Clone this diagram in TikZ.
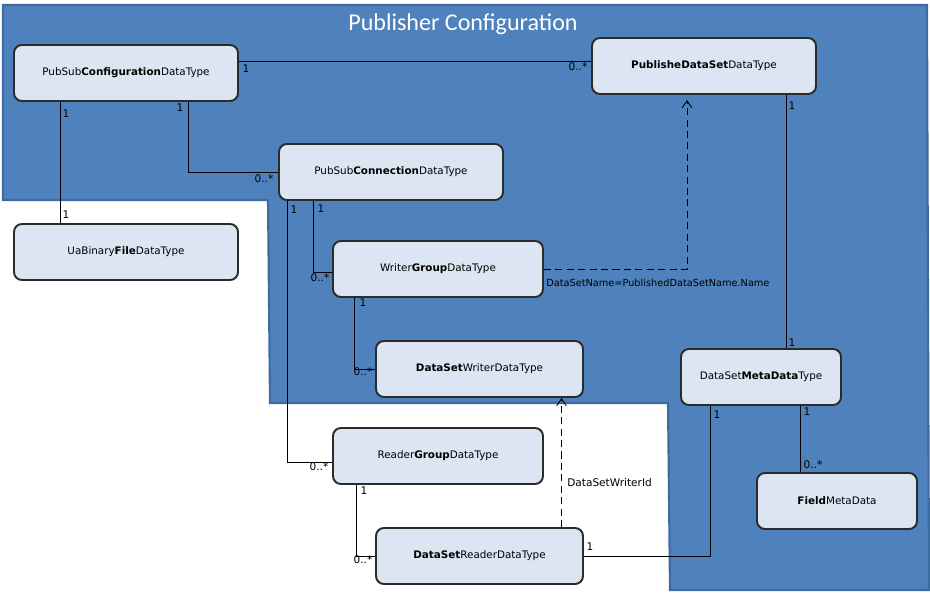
\documentclass[tikz,border=0pt]{standalone}
\usepackage{fontspec}
\setmainfont{DejaVu Sans}
\newfontfamily\titlefont{Carlito}
\usetikzlibrary{calc,arrows.meta}

\definecolor{mycolor1}{rgb}{0.31,0.506,0.741}
\definecolor{mycolor2}{rgb}{0.235,0.42,0.635}
\definecolor{mycolor3}{rgb}{0.863,0.902,0.949}
\definecolor{mycolor4}{rgb}{0.17,0.17,0.17}

\begin{document}
\begin{tikzpicture}[x=0.02cm,y=-0.02cm,
  box/.style={draw=mycolor4,fill=mycolor3,line width=1.1pt,rounded corners=4.5pt,
    minimum width=4.48cm,minimum height=1.12cm,font=\fontsize{5.9}{7}\selectfont},
  mult/.style={font=\fontsize{6}{7}\selectfont,inner sep=0pt},
  conn/.style={line width=0.5pt},
  dep/.style={line width=0.5pt,dash pattern=on 4pt off 2.5pt,-{Straight Barb[length=4pt,width=5.5pt]}}]
\useasboundingbox (0,0) rectangle (930,592);

\draw [fill=mycolor1,draw=mycolor2,line width=1.2pt] (3,5) -- ++(924,0) -- ++(2,585) -- ++(-259,0)
  -- ++(-2,-187) -- ++(-398,0) -- ++(-2,-203) -- ++(-265,0) -- cycle;
\node [text=white,font=\titlefont\fontsize{13.7}{15}\selectfont] (title) at (463,24) {Publisher Configuration};

\node [box] (cfg) at (126,73) {PubSub\textbf{Configuration}DataType};
\node [box] (bin) at (126,252) {UaBinary\textbf{File}DataType};
\node [box] (con) at (391,172) {PubSub\textbf{Connection}DataType};
\node [box] (pds) at (704,66) {\textbf{PublisheDataSet}DataType};
\node [box,minimum width=4.2cm] (wg) at (438,269) {Writer\textbf{Group}DataType};
\node [box,minimum width=4.14cm] (dsw) at (479.5,369) {\textbf{DataSet}WriterDataType};
\node [box,minimum width=4.2cm] (rg) at (438,456) {Reader\textbf{Group}DataType};
\node [box,minimum width=4.14cm] (dsr) at (479.5,556) {\textbf{DataSet}ReaderDataType};
\node [box,minimum width=3.2cm] (dsmd) at (761,377) {DataSet\textbf{MetaData}Type};
\node [box,minimum width=3.2cm] (fmd) at (837,501) {\textbf{Field}MetaData};

% associations
\draw [conn] ($(cfg.east)+(0,-12)$) -- ($(pds.west)+(0,-5)$);
\draw [conn] ($(cfg.south)+(-66,0)$) -- ($(bin.north)+(-66,0)$);
\draw [conn] ($(cfg.south)+(62,0)$) |- (con.west);
\draw [conn] ($(con.south)+(-104,0)$) |- ($(rg.west)+(0,6)$);
\draw [conn] ($(con.south)+(-78,0)$) |- ($(wg.west)+(0,3)$);
\draw [conn] ($(wg.south)+(-84,0)$) |- (dsw.west);
\draw [conn] ($(rg.south)+(-82,0)$) |- (dsr.west);
\draw [conn] (dsr.east) -| ($(dsmd.south)+(-51,0)$);
\draw [conn] ($(pds.south)+(82,0)$) -- ($(dsmd.north)+(25,0)$);
\draw [conn] ($(dsmd.south)+(39,0)$) -- ($(fmd.north)+(-37,0)$);

% references
\draw [dep] (wg.east) -| ($(pds.south)+(-17,5)$);
\draw [dep] ($(dsr.north)+(82,0)$) -- ($(dsw.south)+(82,0)$);
\node [mult,anchor=west,font=\fontsize{5.55}{7}\selectfont] (dsname) at (546,283) {DataSetName=PublishedDataSetName.Name};
\node [mult,anchor=west] (dswid) at (567,483) {DataSetWriterId};

% multiplicities
\node [mult] (m1) at (246,69) {1};
\node [mult] (m2) at (578,67) {0..*};
\node [mult] (m3) at (66,114) {1};
\node [mult] (m4) at (66,215) {1};
\node [mult] (m5) at (180,108) {1};
\node [mult] (m6) at (264,179) {0..*};
\node [mult] (m7) at (294,210) {1};
\node [mult] (m8) at (321,209) {1};
\node [mult] (m9) at (320,278) {0..*};
\node [mult] (m10) at (363,303) {1};
\node [mult] (m11) at (363,372) {0..*};
\node [mult] (m12) at (319,467) {0..*};
\node [mult] (m13) at (364,491) {1};
\node [mult] (m14) at (363,560) {0..*};
\node [mult] (m15) at (590,547) {1};
\node [mult] (m16) at (717,415) {1};
\node [mult] (m17) at (792,106) {1};
\node [mult] (m18) at (792,343) {1};
\node [mult] (m19) at (807,412) {1};
\node [mult] (m20) at (813,465) {0..*};
\end{tikzpicture}
\end{document}
